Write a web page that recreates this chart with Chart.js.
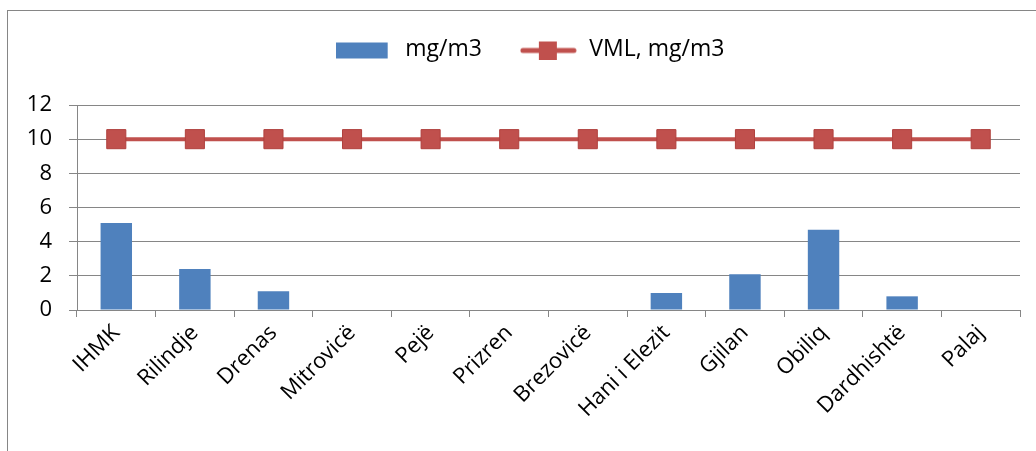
<!DOCTYPE html>
<html>
<head>
<meta charset="utf-8">
<script src="https://cdn.jsdelivr.net/npm/chart.js@4/dist/chart.umd.min.js"></script>
<style>
    body { margin: 0; background: #fff; overflow: hidden; }
    #frame { position: absolute; left: 7px; top: 10px; width: 1100px; height: 500px; border: 1px solid #868686; }
    #wrap { position: absolute; left: 0; top: 0; width: 1036px; height: 451px; }
</style>
</head>
<body>
<div id="frame"></div>
<div id="wrap"><canvas id="chart" width="1036" height="451"></canvas></div>
<script>
// Stations along the x axis
var stations = ["IHMK", "Rilindje", "Drenas", "Mitrovicë", "Pejë", "Prizren", "Brezovicë", "Hani i Elezit", "Gjilan", "Obiliq", "Dardhishtë", "Palaj"];
// measured values, mg/m3
var measured = [5.1, 2.4, 1.1, 0, 0, 0, 0, 1.0, 2.1, 4.7, 0.8, 0];
// limit value (VML)
var limitValues = [10, 10, 10, 10, 10, 10, 10, 10, 10, 10, 10, 10];
var yTicks = [0, 2, 4, 6, 8, 10, 12];

var BLUE = "#4F81BD";
var RED = "#C0504D";
var GRID = "#868686";
var FONT = "'Open Sans', 'Noto Sans', sans-serif";
var SWATCH_W = 58;

// legend swatches drawn by hand so the line entry gets its square marker
function barSwatch() {
    var c = document.createElement("canvas");
    c.width = SWATCH_W; c.height = 20;
    var g = c.getContext("2d");
    g.fillStyle = BLUE;
    g.fillRect(0, 3, 52, 16);
    return c;
}
function lineSwatch() {
    var c = document.createElement("canvas");
    c.width = SWATCH_W; c.height = 20;
    var g = c.getContext("2d");
    g.strokeStyle = RED;
    g.lineWidth = 5;
    g.lineCap = "round";
    g.beginPath();
    g.moveTo(3, 11); g.lineTo(54, 11);
    g.stroke();
    g.fillStyle = RED;
    g.fillRect(19, 2, 18, 18);
    return c;
}
var swatches = [barSwatch(), lineSwatch()];

// legend gets a fixed height so the plot starts where the original does,
// and is nudged right a little (original is centred a bit off the canvas middle)
var legendTweak = {
    id: "legendTweak",
    afterInit: function(chart) {
        var legend = chart.legend;
        var fit = legend.fit;
        legend.fit = function() {
            fit.call(this);
            this.height = 105;
        };
    },
    afterLayout: function(chart) {
        chart.legend.left += 40;
    }
};

var ctx = document.getElementById("chart");
var chart = new Chart(ctx, {
    type: "bar",
    data: {
        labels: stations,
        datasets: [
            {
                type: "bar",
                label: "mg/m3",
                data: measured,
                backgroundColor: BLUE,
                borderWidth: 0,
                categoryPercentage: 1.0,
                barPercentage: 0.4
            },
            {
                type: "line",
                label: "VML, mg/m3",
                data: limitValues,
                borderColor: RED,
                backgroundColor: RED,
                borderWidth: 4,
                pointStyle: "rect",
                pointRadius: 13.5,
                pointHoverRadius: 13.5,
                pointBorderWidth: 1,
                pointBorderColor: "#B0413E"
            }
        ]
    },
    plugins: [legendTweak],
    options: {
        responsive: false,
        animation: false,
        layout: { padding: { top: 0, right: 16, left: 0, bottom: 0 } },
        plugins: {
            tooltip: { enabled: false },
            legend: {
                position: "top",
                labels: {
                    usePointStyle: true,
                    pointStyleWidth: SWATCH_W,
                    boxHeight: 20,
                    padding: 38,
                    color: "#000",
                    font: { family: FONT, size: 23 },
                    generateLabels: function(chart) {
                        var items = Chart.defaults.plugins.legend.labels.generateLabels(chart);
                        items.forEach(function(item) {
                            item.pointStyle = swatches[item.datasetIndex];
                        });
                        return items;
                    }
                }
            }
        },
        scales: {
            x: {
                offset: true,
                grid: {
                    offset: true,
                    drawOnChartArea: false,
                    drawTicks: true,
                    tickLength: 7,
                    color: GRID
                },
                border: { color: GRID, width: 1 },
                ticks: {
                    color: "#000",
                    font: { family: FONT, size: 22 },
                    minRotation: 45,
                    maxRotation: 45,
                    autoSkip: false,
                    padding: 3
                },
                afterFit: function(scale) { scale.height = 141; }
            },
            y: {
                min: 0,
                max: 12,
                afterBuildTicks: function(scale) {
                    scale.ticks = yTicks.map(function(v) { return { value: v }; });
                },
                grid: {
                    color: GRID,
                    tickLength: 8,
                    lineWidth: 1
                },
                border: { color: GRID, width: 1 },
                ticks: {
                    color: "#000",
                    font: { family: FONT, size: 22 },
                    padding: 17
                },
                afterFit: function(scale) { scale.width = 77; }
            }
        }
    }
});
</script>
</body>
</html>
